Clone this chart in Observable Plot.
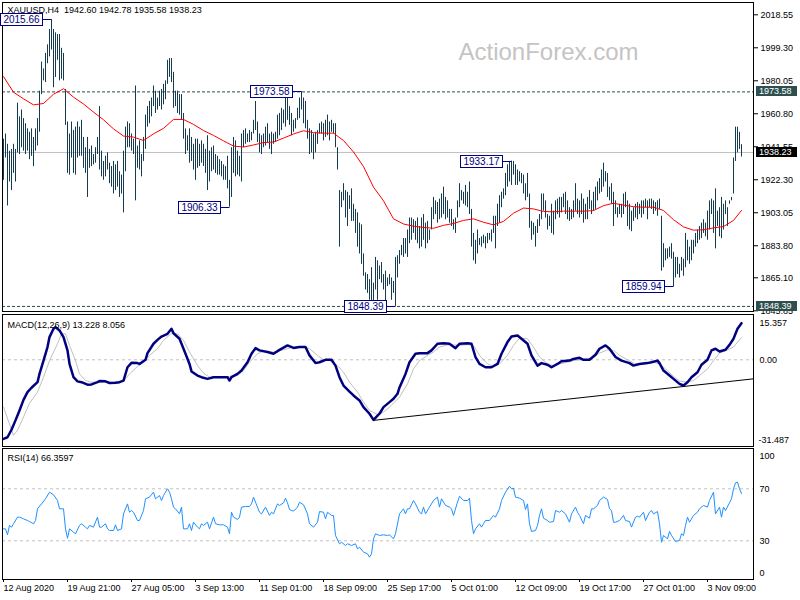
<!DOCTYPE html>
<html><head><meta charset="utf-8">
<script src="https://cdn.jsdelivr.net/npm/d3@7"></script>
<script src="https://cdn.jsdelivr.net/npm/@observablehq/plot@0.6"></script>
<style>
body{margin:0;background:#fff;}
#wrap{position:relative;width:800px;height:600px;overflow:hidden;background:#fff;}
#wrap svg{position:absolute;left:0;overflow:visible;}
</style></head><body><div id="wrap"></div>
<script>
// ---------- DATA ----------
const title = "XAUUSD,H4  1942.60 1942.78 1935.58 1938.23";
const highs = [
1946,1949,1943,1939,1940,1943,1940,1967,1959,1963,
1958,1955,1952,1950,1952,1947,1952,1958,1974,1991,
1987,1996,2001,2010,2015.66,2010,2008,2007,2007,1999,
1996,1975,1956,1949,1956,1951,1953,1956,1953,1957,
1947,1941,1947,1940,1942,1937,1941,1947,1965,1939,
1933,1936,1938,1932,1930,1933,1931,1933,1927,1925,
1939,1953,1956,1955,1949,1946,1977,1942,1945,1937,
1947,1960,1965,1968,1970,1977,1974,1970,1974,1975,
1978,1980,1992,1993,1993,1985,1974,1974,1972,1972,
1961,1952,1948,1952,1947,1943,1946,1946,1943,1945,
1943,1940,1948,1939,1941,1942,1937,1936,1934,1933,
1931,1930,1936,1922,1941,1947,1945,1939,1936,1949,
1951,1952,1949,1951,1950,1957,1968,1956,1949,1948,
1949,1953,1955,1949,1950,1949,1950,1960,1961,1964,
1963,1970,1970,1965,1961,1957,1958,1964,1970,1973.58,
1970,1968,1957,1952,1951,1949,1950,1951,1955,1956,
1955,1957,1960,1956,1957,1955,1955,1941,1916,1915,
1920,1916,1915,1913,1917,1908,1905,1903,1897,1896,
1879,1868,1867,1864,1871,1862,1877,1875,1872,1874,
1867,1869,1865,1867,1865,1863,1877,1878,1881,1884,
1888,1888,1893,1900,1900,1899,1898,1900,1895,1900,
1902,1897,1898,1893,1906,1912,1910,1909,1911,1914,
1918,1912,1910,1905,1905,1899,1900,1910,1920,1916,
1915,1919,1915,1921,1905,1891,1887,1893,1888,1889,
1890,1889,1891,1891,1893,1901,1901,1908,1913,1915,
1917,1926,1931,1933,1933.17,1933,1931,1928,1927,1926,
1925,1920,1926,1914,1898,1897,1895,1899,1902,1914,
1914,1910,1902,1901,1908,1904,1910,1911,1912,1912,
1914,1915,1910,1906,1905,1910,1920,1911,1910,1914,
1911,1908,1912,1916,1910,1915,1918,1921,1923,1928,
1932,1927,1926,1918,1920,1915,1910,1906,1908,1908,
1914,1915,1910,1908,1904,1906,1908,1909,1908,1910,
1910,1911,1910,1911,1911,1910,1909,1910,1911,1901,
1885,1882,1882,1883,1885,1880,1877,1877,1873,1877,
1876,1891,1887,1883,1887,1887,1891,1893,1895,1897,
1899,1897,1904,1910,1911,1910,1917,1904,1906,1912,
1908,1910,1906,1910,1912,1935,1953,1953,1950,1942.78
];
const lows = [
1922,1935,1907,1921,1916,1926,1921,1938,1937,1941,
1939,1937,1939,1934,1936,1930,1939,1942,1950,1972,
1980,1979,1990,1994,1998,1976,1982,1992,1980,1981,
1980,1954,1926,1925,1935,1926,1925,1935,1936,1936,
1929,1926,1912,1929,1930,1931,1932,1937,1928,1924,
1922,1924,1928,1920,1918,1914,1916,1918,1912,1914,
1903,1927,1941,1941,1939,1937,1910,1929,1928,1924,
1933,1940,1953,1955,1959,1965,1961,1963,1965,1963,
1966,1969,1978,1982,1979,1964,1965,1961,1960,1957,
1946,1937,1939,1932,1933,1928,1922,1929,1930,1932,
1930,1926,1916,1921,1927,1928,1926,1925,1925,1924,
1922,1922,1917,1906.33,1912,1926,1924,1925,1924,1921,
1941,1943,1944,1944,1945,1949,1951,1944,1938,1937,
1941,1942,1944,1940,1937,1943,1944,1946,1948,1951,
1955,1953,1957,1954,1948,1950,1952,1957,1958,1963,
1955,1952,1946,1937,1938,1934,1938,1943,1949,1949,
1945,1947,1948,1945,1950,1949,1941,1928,1883,1906,
1910,1900,1895,1905,1898,1898,1891,1883,1879,1873,
1866,1858,1856,1852,1850,1851,1858,1852,1864,1862,
1858,1850,1860,1861,1852,1856,1848.39,1865,1873,1878,
1877,1879,1877,1885,1887,1891,1887,1885,1882,1883,
1887,1882,1885,1887,1893,1899,1902,1897,1899,1900,
1902,1899,1900,1897,1895,1893,1891,1900,1906,1910,
1908,1907,1906,1902,1883,1875,1873,1879,1884,1883,
1885,1882,1885,1887,1886,1891,1882,1895,1897,1906,
1911,1913,1918,1921,1919,1925,1919,1919,1921,1920,
1914,1910,1912,1894,1887,1890,1883,1891,1895,1899,
1904,1900,1893,1895,1891,1890,1899,1902,1900,1903,
1906,1902,1899,1898,1899,1900,1904,1902,1900,1902,
1897,1899,1899,1905,1902,1904,1905,1910,1914,1915,
1918,1921,1912,1910,1908,1895,1902,1900,1902,1900,
1902,1906,1895,1893,1892,1898,1900,1899,1902,1900,
1902,1906,1899,1906,1905,1902,1904,1901,1905,1869,
1871,1875,1876,1877,1876,1859.94,1865,1867,1865,1869,
1866,1871,1875,1873,1875,1879,1883,1885,1887,1888,
1891,1889,1887,1893,1902,1891,1882,1895,1889,1888,
1893,1902,1895,1908,1910,1914,1933,1938,1940,1935.58
];
// moving average (red), every 5 bars
const maIdx = [0,5,10,15,20,25,30,35,40,45,50,55,60,65,70,75,80,85,90,95,100,105,110,115,120,125,130,135,140,145,150,155,160,165,170,175,180,185,190,195,200,205,210,215,220,225,230,235,240,245,250,255,260,265,270,275,280,285,290,295,300,305,310,315,320,325,330,335,340,345,350,355,360,365,369];
const maVal = [1982.5,1973.4,1969.5,1966.0,1966.8,1972.2,1975.4,1970.5,1966.5,1961.8,1957.3,1952.0,1947.8,1947.2,1945.2,1949.1,1952.3,1957.5,1957.5,1954.6,1951.0,1948.2,1945.0,1942.0,1941.4,1942.6,1944.0,1944.3,1946.6,1949.0,1950.9,1949.8,1949.5,1949.5,1945.2,1938.5,1930.0,1918.0,1910.0,1899.5,1896.5,1895.2,1894.5,1894.0,1895.7,1896.8,1898.6,1899.5,1897.5,1896.0,1898.0,1902.8,1905.8,1905.3,1903.8,1903.6,1904.0,1904.0,1904.0,1904.3,1907.2,1908.6,1907.5,1906.6,1906.3,1906.3,1904.4,1899.0,1894.8,1892.9,1893.1,1894.2,1895.0,1898.6,1904.4];
const priceTicks = [2018.55,1999.30,1980.05,1960.80,1941.55,1922.30,1903.05,1883.80,1865.10,1845.85];
const lastPrice = 1938.23;
const levels = [1973.58, 1848.39];
const annIdx = [24,113,149,196,254,335];
const annVal = [2015.66,1906.33,1973.58,1848.39,1933.17,1859.94];

const macdPts = [[0,-28.6],[2,-28.0],[4,-25.3],[6,-21.9],[8,-18.3],[10,-14.5],[12,-11.7],[14,-10.1],[17,-8.1],[18,-5.1],[20,-0.3],[22,4.6],[23,8.2],[25,11.2],[26,11.8],[28,10.6],[30,8.2],[32,3.4],[33,-1.5],[35,-6.3],[37,-7.8],[39,-8.1],[42,-9.0],[44,-8.9],[47,-8.1],[48,-7.7],[51,-7.8],[53,-8.4],[56,-8.3],[58,-8.1],[60,-7.5],[62,-2.7],[64,-1.1],[67,-1.2],[68,-1.5],[71,0],[72,2.4],[75,5.8],[77,7.2],[79,8.4],[82,9.4],[84,11.2],[85,9.6],[88,7.6],[89,5.8],[91,2.2],[93,-1.5],[94,-4.2],[97,-5.7],[99,-6.3],[102,-6.9],[105,-6.3],[108,-6.3],[112,-6.3],[113,-7.5],[114,-6.3],[117,-5.1],[119,-3.9],[122,-0.9],[124,2.2],[126,4.2],[128,3.4],[132,2.8],[135,2.2],[138,3.6],[142,5.2],[145,4.3],[148,4.6],[151,4.6],[153,1.6],[156,-1.2],[158,-0.9],[161,0],[164,0],[166,-2.1],[168,-6.3],[170,-9.3],[173,-11.5],[175,-12.9],[178,-14.7],[180,-17.1],[183,-19.5],[185,-21.7],[188,-19.5],[190,-17.1],[193,-15.3],[195,-14.1],[197,-12.3],[198,-10.0],[201,-5.1],[203,-0.9],[206,2.2],[208,2.4],[212,2.4],[214,3.4],[217,5.8],[220,6.0],[223,5.8],[226,4.2],[228,5.8],[232,6.0],[234,5.8],[236,1.0],[238,-1.5],[241,-2.7],[244,-2.7],[247,-1.5],[249,2.2],[252,6.4],[254,8.4],[257,8.8],[259,7.6],[262,5.8],[264,1.6],[267,-2.1],[269,-1.2],[272,-1.8],[274,-2.7],[277,-1.5],[279,-0.5],[283,-0.3],[285,0.3],[288,0.7],[290,0],[293,0],[296,1.8],[298,4.0],[301,5.2],[303,4.0],[306,1.0],[309,-0.3],[313,-1.2],[315,-2.1],[318,-1.5],[322,-1.2],[324,-0.9],[327,-0.3],[328,-1.2],[330,-3.9],[333,-5.7],[335,-6.9],[338,-8.7],[340,-9.3],[342,-8.1],[344,-6.3],[347,-4.5],[349,-1.8],[352,0],[354,3.4],[356,4.0],[358,3.0],[361,3.6],[363,5.4],[365,7.6],[367,11.2],[369,13.228]];
const signalPts = [[0,-17.1],[5,-27.3],[7,-25.5],[10,-20.7],[13,-15.7],[17,-11.7],[20,-6.3],[23,-0.3],[27,5.8],[29,9.4],[31,9.4],[33,5.2],[36,-0.3],[38,-5.1],[41,-7.5],[44,-8.1],[48,-8.1],[55,-8.1],[60,-7.8],[63,-5.1],[67,-2.4],[70,-0.9],[73,1.6],[77,4.0],[80,7.0],[84,9.6],[87,9.4],[90,7.0],[93,2.8],[97,-2.1],[100,-4.8],[103,-6.3],[108,-6.3],[113,-6.0],[117,-5.7],[120,-3.9],[123,-0.9],[127,2.2],[130,3.1],[135,2.8],[140,3.6],[145,4.6],[150,4.8],[153,4.0],[157,1.6],[160,0],[163,-0.3],[167,-2.1],[170,-4.5],[173,-8.1],[177,-11.7],[180,-15.3],[183,-18.3],[187,-19.8],[190,-18.9],[193,-17.1],[198,-13.5],[202,-8.7],[205,-3.3],[208,-0.3],[212,1.6],[215,2.8],[218,4.6],[222,5.4],[225,5.4],[228,5.2],[232,5.5],[235,5.2],[238,1.6],[242,-1.5],[245,-2.4],[248,-1.5],[252,1.6],[255,5.2],[258,7.8],[262,7.6],[265,4.6],[268,1.0],[272,-1.5],[275,-2.1],[278,-1.5],[282,-0.9],[285,-0.3],[288,0],[292,0.1],[295,1.0],[298,2.4],[302,3.6],[305,3.4],[308,1.6],[312,0],[315,-1.2],[318,-1.5],[322,-1.2],[325,-0.9],[328,-1.5],[332,-3.9],[335,-6.0],[338,-7.7],[342,-8.1],[345,-7.5],[348,-5.7],[352,-3.3],[355,-0.3],[358,2.4],[362,3.6],[365,4.6],[369,8.056]];
const macdTrend = [[185,-21.9],[374.8,-6.9]];
const macdLabel = "MACD(12,26,9) 13.228 8.056";
const macdTicks = [15.357, 0, -31.487];

const rsiPts = [[0,39.2],[1,39.2],[2,34.6],[3,41.8],[4,40.5],[5,43.1],[7,48.2],[8,48.2],[10,46.9],[12,45.6],[13,44.8],[15,43.1],[16,45.6],[17,54.6],[19,58.4],[21,62.3],[23,67.4],[25,65.4],[27,61.0],[28,54.6],[30,54.6],[31,39.2],[32,32.0],[33,39.2],[35,36.6],[36,35.4],[38,41.8],[39,43.1],[41,40.5],[42,39.2],[43,41.8],[45,40.5],[47,48.2],[48,40.5],[49,40.5],[51,43.1],[52,39.2],[53,37.9],[55,37.9],[56,42.3],[57,37.9],[59,39.2],[60,50.7],[62,58.4],[63,52.0],[64,53.3],[65,52.0],[67,45.6],[68,45.6],[70,53.3],[71,62.3],[73,63.6],[75,67.4],[76,62.3],[78,64.8],[79,61.0],[80,64.8],[82,70.0],[83,67.4],[84,62.3],[85,55.9],[86,54.6],[88,50.7],[89,55.9],[90,39.2],[92,39.2],[93,43.1],[94,37.9],[95,44.3],[97,40.5],[98,39.2],[99,43.1],[100,41.8],[102,44.3],[103,39.2],[105,48.2],[106,43.1],[108,42.3],[110,42.3],[112,40.5],[113,35.4],[114,52.0],[115,48.2],[117,46.4],[118,48.2],[119,55.9],[121,56.4],[123,56.4],[124,58.4],[125,63.6],[126,59.7],[128,52.0],[129,50.7],[131,55.9],[133,49.5],[134,52.0],[135,50.7],[136,54.6],[137,58.4],[138,57.2],[140,59.2],[141,62.8],[142,59.2],[143,54.1],[145,52.8],[147,55.9],[148,59.7],[150,57.7],[152,50.7],[153,43.1],[155,40.5],[157,44.3],[158,52.5],[160,52.0],[161,46.9],[162,52.0],[164,49.5],[165,49.5],[166,34.1],[168,27.7],[169,28.9],[171,26.4],[172,27.7],[174,26.4],[176,27.7],[177,23.8],[178,25.1],[180,21.3],[182,20.0],[183,17.4],[184,20.0],[185,31.5],[186,35.4],[188,34.1],[190,34.6],[192,34.1],[193,34.6],[195,31.5],[196,35.4],[198,50.7],[200,54.6],[201,50.7],[202,54.6],[203,54.6],[205,61.0],[206,58.4],[208,52.0],[209,50.7],[210,55.9],[211,50.7],[213,55.9],[215,61.0],[217,63.6],[218,55.9],[219,62.3],[221,57.2],[223,55.9],[224,54.6],[225,49.5],[227,59.7],[228,64.3],[230,61.0],[232,61.0],[233,62.8],[234,45.6],[235,35.4],[236,39.2],[238,43.1],[239,40.5],[240,43.1],[241,45.6],[243,45.6],[245,49.5],[246,48.2],[248,54.6],[249,61.0],[251,67.4],[253,72.0],[254,70.0],[255,70.5],[256,63.6],[258,62.8],[260,61.0],[261,54.1],[262,58.4],[263,43.1],[264,37.2],[266,37.9],[267,41.8],[268,49.5],[269,54.6],[270,47.4],[272,45.6],[273,44.3],[275,44.8],[276,53.3],[278,52.0],[279,53.3],[281,50.7],[283,44.3],[284,50.7],[286,55.9],[287,52.0],[288,49.5],[290,43.1],[291,49.5],[293,47.4],[294,54.6],[295,54.6],[297,57.2],[298,61.0],[300,63.6],[302,61.8],[303,54.6],[304,53.3],[305,44.3],[306,44.3],[308,45.6],[310,49.5],[311,45.6],[313,44.8],[314,40.5],[316,48.2],[317,48.9],[318,48.2],[320,52.0],[321,45.6],[323,52.0],[324,53.3],[325,50.7],[327,52.5],[328,43.1],[329,28.9],[330,34.1],[332,31.5],[333,37.2],[334,34.1],[336,29.5],[338,30.2],[339,35.4],[340,34.1],[341,41.8],[342,48.2],[343,44.3],[345,49.5],[347,52.0],[348,54.6],[350,57.2],[352,55.9],[353,61.0],[355,67.4],[356,50.7],[358,55.9],[359,48.2],[360,55.9],[361,53.3],[363,59.2],[364,62.3],[365,70.0],[366,74.6],[367,75.1],[368,70.0],[369,66.36]];
const rsiLabel = "RSI(14) 66.3597";
const rsiLevels = [70, 30];
const rsiTicks = [100, 70, 30, 0];

const dateIdx = [0,32,64,96,128,160,192,224,256,288,320,352];
const dateLabels = ["12 Aug 2020","19 Aug 21:00","27 Aug 05:00","3 Sep 13:00","11 Sep 01:00","18 Sep 09:00","25 Sep 17:00","5 Oct 01:00","12 Oct 09:00","19 Oct 17:00","27 Oct 01:00","3 Nov 09:00"];
const watermark = "ActionForex.com";

// ---------- CHART ----------
const FONT = "'Liberation Sans', Arial, sans-serif";
const BAR = "#143b50", SLATE = "#2f4f4f", NAVY = "#000080", SILVER = "#c0c0c0";
const X = {domain: [0, 369], range: [3, 741], axis: null};
const baseStyle = {fontFamily: FONT, fontSize: "9px", color: "black", background: "transparent", overflow: "visible"};
const wrap = document.getElementById("wrap");

const bars = highs.map((h, i) => ({i, high: h, low: lows[i]}));
const ma = maIdx.map((i, k) => ({i, v: maVal[k]}));

const pricePlot = Plot.plot({
  width: 800, height: 312, marginLeft: 2, marginRight: 47, marginTop: 2, marginBottom: 1,
  x: X,
  y: {domain: [1845.85, 2018.55], range: [310.3, 14.3], axis: null},
  style: baseStyle,
  marks: [
    Plot.text([watermark], {frameAnchor: "top-left", dx: 456, dy: 50, lineAnchor: "middle", fontSize: 24, fill: "#c4c4c4", textAnchor: "start"}),
    Plot.ruleY([lastPrice], {stroke: SILVER}),
    Plot.ruleY(levels, {stroke: SLATE, strokeDasharray: "3,2"}),
    Plot.ruleX(bars, {x: "i", y1: "low", y2: "high", stroke: BAR, strokeWidth: 1}),
    Plot.line(ma, {x: "i", y: "v", stroke: "#ff0000", strokeWidth: 1}),
    Plot.axisY({anchor: "right", ticks: priceTicks, tickFormat: d => d.toFixed(2), tickSize: 4, tickPadding: 3, fontSize: 9, label: null}),
    Plot.frame({stroke: "black"}),
    Plot.text([title], {frameAnchor: "top-left", dx: 5, dy: 8, lineAnchor: "middle", textAnchor: "start", fontSize: 9})
  ]
});
pricePlot.style.top = "0px";
wrap.appendChild(pricePlot);

// annotation boxes & right-edge price boxes (positioned with Plot's scales)
{
  const xs = pricePlot.scale("x"), ys = pricePlot.scale("y");
  const svg = d3.select(pricePlot);
  annIdx.forEach((idx, k) => {
    const bx = xs.apply(idx) + 0.5, by = Math.round(ys.apply(annVal[k])) + 0.5;
    const right = Math.round(bx - 10) + 0.5, left = right - 42;
    svg.append("line").attr("x1", right).attr("x2", bx).attr("y1", by).attr("y2", by).attr("stroke", NAVY);
    svg.append("rect").attr("x", left).attr("y", by - 6).attr("width", 42).attr("height", 12)
      .attr("fill", "white").attr("stroke", NAVY);
    svg.append("text").attr("x", left + 21).attr("y", by).attr("dy", "0.36em").attr("text-anchor", "middle")
      .attr("fill", NAVY).attr("font-size", 10).attr("font-family", FONT).text(annVal[k].toFixed(2));
  });
  const right = [[levels[0], SLATE], [lastPrice, "#000"], [levels[1], SLATE]];
  right.forEach(([v, c]) => {
    const y = ys.apply(v);
    svg.append("rect").attr("x", 756).attr("y", Math.round(y) - 5).attr("width", 41).attr("height", 10).attr("fill", c);
    svg.append("text").attr("x", 759).attr("y", Math.round(y)).attr("dy", "0.34em").attr("text-anchor", "start").attr("fill", "white")
      .attr("font-size", 9).attr("font-family", FONT).text(v.toFixed(2));
  });
}

const toObj = p => ({i: p[0], v: p[1]});
const macdPlot = Plot.plot({
  width: 800, height: 136, marginLeft: 2, marginRight: 47, marginTop: 2, marginBottom: 2,
  x: X,
  y: {domain: [-31.487, 15.357], range: [134.4, 4.8], axis: null},
  style: baseStyle,
  marks: [
    Plot.ruleY([0], {stroke: SILVER, strokeDasharray: "3,3"}),
    Plot.line(signalPts.map(toObj), {x: "i", y: "v", stroke: SILVER, strokeWidth: 1}),
    Plot.line(macdPts.map(toObj), {x: "i", y: "v", stroke: NAVY, strokeWidth: 2.5}),
    Plot.line(macdTrend.map(toObj), {x: "i", y: "v", stroke: "black", strokeWidth: 1}),
    Plot.text([macdTicks[0]], {y: d => d, frameAnchor: "right", dx: 6, dy: 6, textAnchor: "start", text: d => d.toFixed(3)}),
    Plot.text([macdTicks[1]], {y: d => d, frameAnchor: "right", dx: 6, textAnchor: "start", text: d => d.toFixed(2)}),
    Plot.text([macdTicks[2]], {y: d => d, frameAnchor: "right", dx: 5, dy: -7, textAnchor: "start", text: d => d.toFixed(3)}),
    Plot.frame({stroke: "black"}),
    Plot.text([macdLabel], {frameAnchor: "top-left", dx: 5, dy: 11, lineAnchor: "middle", textAnchor: "start"})
  ]
});
macdPlot.style.top = "312px";
wrap.appendChild(macdPlot);

const rsiPlot = Plot.plot({
  width: 800, height: 153, marginLeft: 2, marginRight: 47, marginTop: 1, marginBottom: 21,
  x: X,
  y: {domain: [0, 100], range: [132.3, 2.3], axis: null},
  style: baseStyle,
  marks: [
    Plot.ruleY(rsiLevels, {stroke: SILVER, strokeDasharray: "3,3"}),
    Plot.line(rsiPts.map(toObj), {x: "i", y: "v", stroke: "#1e90ff", strokeWidth: 1}),
    Plot.text([rsiTicks[0]], {y: d => d, frameAnchor: "right", dx: 6, dy: 6, textAnchor: "start"}),
    Plot.text(rsiTicks.slice(1, 3), {y: d => d, frameAnchor: "right", dx: 6, textAnchor: "start"}),
    Plot.text([rsiTicks[3]], {y: d => d, frameAnchor: "right", dx: 6, dy: -7, textAnchor: "start"}),
    Plot.axisX({anchor: "bottom", ticks: dateIdx, tickFormat: d => dateLabels[dateIdx.indexOf(d)], tickSize: 3, tickPadding: 2, textAnchor: "start", fontSize: 9, label: null}),
    Plot.frame({stroke: "black"}),
    Plot.text([rsiLabel], {frameAnchor: "top-left", dx: 5, dy: 10, lineAnchor: "middle", textAnchor: "start"})
  ]
});
rsiPlot.style.top = "447px";
wrap.appendChild(rsiPlot);
</script>
</body></html>
